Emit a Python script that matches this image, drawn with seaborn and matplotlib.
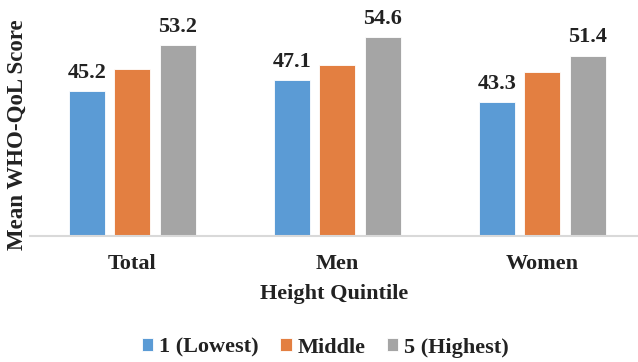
from matplotlib import pyplot as plt
import seaborn as sns
import pandas as pd

groups = ["Total", "Men", "Women"]
quintiles = ["1 (Lowest)", "Middle", "5 (Highest)"]
lowest = [45.2, 47.1, 43.3]
middle = [49.1, 49.8, 48.5]
highest = [53.2, 54.6, 51.4]
colors = ["#5B9BD5", "#E37F41", "#A5A5A5"]

rows = []
for q, vals in zip(quintiles, [lowest, middle, highest]):
    for g, v in zip(groups, vals):
        rows.append({"group": g, "quintile": q, "score": v})
df = pd.DataFrame(rows)

sns.set_style("white")
plt.rcParams["font.family"] = ["Liberation Serif", "DejaVu Serif"]
plt.rcParams["font.weight"] = "bold"

fig = plt.figure(figsize=(6.38, 3.62), dpi=100)
ax = fig.add_axes([0.047, 0.348, 0.953, 0.652])

sns.barplot(
    data=df,
    x="group",
    y="score",
    hue="quintile",
    palette=colors,
    saturation=1,
    width=0.666,
    gap=0.21,
    edgecolor="white",
    linewidth=0.6,
    ax=ax,
)

# only lowest and highest quintiles get value labels
for i in [0, 2]:
    ax.bar_label(ax.containers[i], fmt="%.1f", padding=6, fontsize=16, fontweight="bold", color="#222222")

ax.set_xlim(-0.5, 2.467)
ax.set_ylim(20, 61.1)
ax.set_yticks([])
for s in ["top", "right", "left"]:
    ax.spines[s].set_visible(False)
ax.spines["bottom"].set_color("#D9D9D9")
ax.spines["bottom"].set_linewidth(1.5)
ax.tick_params(axis="x", length=0, pad=13, labelsize=16, labelcolor="#222222")
ax.set_xlabel("Height Quintile", fontsize=16, fontweight="bold", color="#222222", labelpad=7)
ax.set_ylabel("Mean WHO-QoL Score", fontsize=16.5, fontweight="bold", color="#222222")
ax.yaxis.set_label_coords(-0.003, 0.43)

ax.legend_.remove()
handles, labels = ax.get_legend_handles_labels()
fig.legend(
    handles,
    labels,
    loc="center",
    bbox_to_anchor=(0.51, 0.04),
    ncol=3,
    frameon=False,
    fontsize=16,
    handlelength=0.5,
    handleheight=0.55,
    handletextpad=0.25,
    columnspacing=1.0,
    labelcolor="#222222",
)

fig.savefig("out.png", dpi=100)
